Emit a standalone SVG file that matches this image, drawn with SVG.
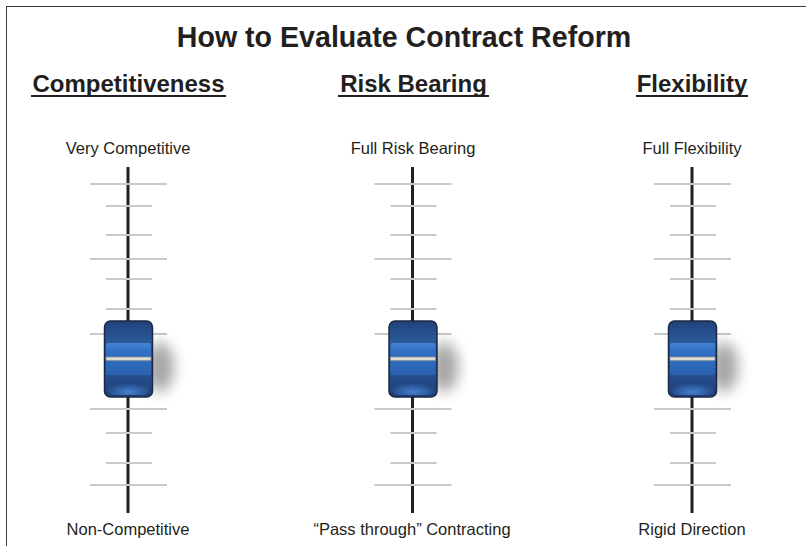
<svg xmlns="http://www.w3.org/2000/svg" xmlns:xlink="http://www.w3.org/1999/xlink" width="806" height="546" viewBox="0 0 806 546">
<style>
.title{font-family:"Liberation Sans",Arial,sans-serif;font-weight:bold;font-size:28.6px;fill:#231f20;text-anchor:middle}
.head{font-family:"Liberation Sans",Arial,sans-serif;font-weight:bold;font-size:24px;fill:#231f20;text-anchor:middle}
.lbl{font-family:"Liberation Sans",Arial,sans-serif;font-size:16.5px;fill:#231f20;text-anchor:middle}
.tick{stroke:#c9c9c9;stroke-width:2}
.rail{stroke:#231f20;stroke-width:3}
.ul{stroke:#231f20;stroke-width:2}
</style>
<defs>
<linearGradient id="gBase" x1="0" y1="0" x2="0" y2="1">
<stop offset="0" stop-color="#1f4178"/>
<stop offset="0.25" stop-color="#2b5898"/>
<stop offset="0.7" stop-color="#264f8e"/>
<stop offset="1" stop-color="#1d3f74"/>
</linearGradient>
<linearGradient id="gBand" x1="0" y1="0" x2="0" y2="1">
<stop offset="0" stop-color="#4584d8"/>
<stop offset="0.2" stop-color="#3472c6"/>
<stop offset="1" stop-color="#2b62b0"/>
</linearGradient>
<radialGradient id="gHi" cx="0.5" cy="0.8" r="0.6">
<stop offset="0" stop-color="#4a88dc" stop-opacity="0.9"/>
<stop offset="1" stop-color="#4a88dc" stop-opacity="0"/>
</radialGradient>
<filter id="blur" x="-1" y="-1" width="3" height="3"><feGaussianBlur stdDeviation="7"/></filter>
<g id="slider">
<line class="rail" x1="0" y1="167" x2="0" y2="513"/>
<line class="tick" x1="-38" y1="184" x2="39" y2="184"/>
<line class="tick" x1="-22" y1="206" x2="24" y2="206"/>
<line class="tick" x1="-22" y1="235" x2="24" y2="235"/>
<line class="tick" x1="-38" y1="259" x2="39" y2="259"/>
<line class="tick" x1="-22" y1="279" x2="24" y2="279"/>
<line class="tick" x1="-22" y1="309" x2="24" y2="309"/>
<line class="tick" x1="-38" y1="334" x2="39" y2="334"/>
<line class="tick" x1="-38" y1="409" x2="39" y2="409"/>
<line class="tick" x1="-22" y1="433" x2="24" y2="433"/>
<line class="tick" x1="-22" y1="463" x2="24" y2="463"/>
<line class="tick" x1="-38" y1="485" x2="39" y2="485"/>
<ellipse cx="32" cy="367" rx="14" ry="25" fill="#000" opacity="0.35" filter="url(#blur)"/>
<rect x="-23.5" y="321" width="48" height="76" rx="6" fill="url(#gBase)" stroke="#1b2a44" stroke-width="1.5"/>
<rect x="-22" y="343" width="45" height="32" rx="2" fill="url(#gBand)"/>
<rect x="-20" y="380" width="41" height="15" rx="5" fill="url(#gHi)"/>
<rect x="-22" y="357" width="45" height="3.5" fill="#dcdcd4" stroke="#8d8d88" stroke-width="0.6"/>
</g>
</defs>
<rect x="6.5" y="6.5" width="820" height="560" fill="#fff" stroke="#3a3a3a" stroke-width="1"/>
<text class="title" x="404" y="47">How to Evaluate Contract Reform</text>
<g id="competitiveness">
<text class="head" x="128.5" y="92">Competitiveness</text>
<line class="ul" x1="31" y1="96" x2="226" y2="96"/>
<text class="lbl" x="128" y="154">Very Competitive</text>
<use xlink:href="#slider" transform="translate(128,0)"/>
<text class="lbl" x="128" y="535">Non-Competitive</text>
</g>
<g id="risk-bearing">
<text class="head" x="413.5" y="92">Risk Bearing</text>
<line class="ul" x1="338" y1="96" x2="489" y2="96"/>
<text class="lbl" x="413" y="154">Full Risk Bearing</text>
<use xlink:href="#slider" transform="translate(412.5,0)"/>
<text class="lbl" x="412" y="535">“Pass through” Contracting</text>
</g>
<g id="flexibility">
<text class="head" x="692" y="92">Flexibility</text>
<line class="ul" x1="636" y1="96" x2="748" y2="96"/>
<text class="lbl" x="692" y="154">Full Flexibility</text>
<use xlink:href="#slider" transform="translate(692,0)"/>
<text class="lbl" x="692" y="535">Rigid Direction</text>
</g>
<g id="connectors"/>
</svg>
